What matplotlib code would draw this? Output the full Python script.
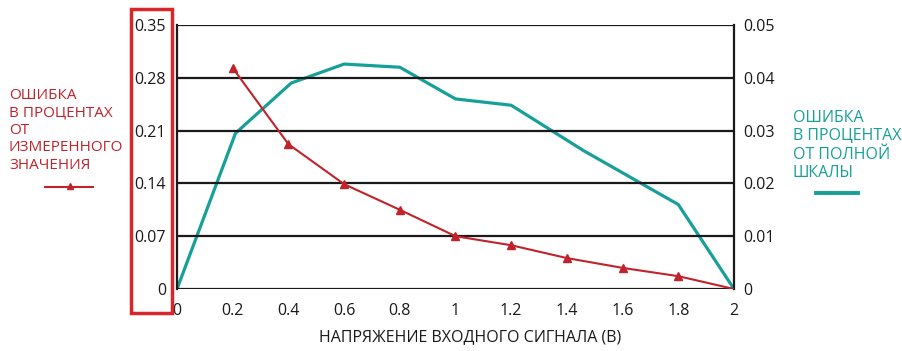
import matplotlib
matplotlib.use("Agg")
import matplotlib.pyplot as plt
from matplotlib.patches import Rectangle
from matplotlib.lines import Line2D

plt.rcParams['font.family'] = ['Open Sans', 'DejaVu Sans']

# Data
red_x = [0.2, 0.4, 0.6, 0.8, 1.0, 1.2, 1.4, 1.6, 1.8, 2.0]
red_y = [0.293, 0.192, 0.139, 0.105, 0.070, 0.058, 0.041, 0.028, 0.017, 0.0]
teal_x = [0.0, 0.21, 0.41, 0.6, 0.8, 1.0, 1.2, 1.46, 1.8, 2.0]
teal_y = [0.0, 0.0295, 0.0390, 0.0426, 0.0420, 0.0360, 0.0348, 0.0262, 0.0160, 0.0]
left_ticks = [0, 0.07, 0.14, 0.21, 0.28, 0.35]
left_labels = ['0', '0.07', '0.14', '0.21', '0.28', '0.35']
right_ticks = [0, 0.01, 0.02, 0.03, 0.04, 0.05]
right_labels = ['0', '0.01', '0.02', '0.03', '0.04', '0.05']
x_ticks = [0, 0.2, 0.4, 0.6, 0.8, 1, 1.2, 1.4, 1.6, 1.8, 2]
x_labels = ['0', '0.2', '0.4', '0.6', '0.8', '1', '1.2', '1.4', '1.6', '1.8', '2']

RED = '#c0232b'
TEAL = '#17a098'
W, H = 903, 351

fig = plt.figure(figsize=(W/100, H/100), dpi=100)
ax = fig.add_axes([177/W, 1-289/H, (734-177)/W, (289-25)/H])
ax2 = ax.twinx()

ax.set_xlim(0, 2)
ax.set_ylim(0, 0.35)
ax2.set_ylim(0, 0.05)

for t in left_ticks:
    ax.axhline(t, color='#1a1a1a', lw=1.6, zorder=1)

ax2.plot(teal_x, teal_y, color=TEAL, lw=2.3, zorder=3)
ax.plot(red_x, red_y, color=RED, lw=1.5, marker='^', ms=5.5,
        markevery=list(range(len(red_x)-1)), zorder=4)
ax.set_zorder(ax2.get_zorder()+1)
ax.patch.set_visible(False)

ax.set_xticks(x_ticks)
ax.set_xticklabels(x_labels)
ax.set_yticks(left_ticks)
ax.set_yticklabels(left_labels)
ax2.set_yticks(right_ticks)
ax2.set_yticklabels(right_labels)

for a in (ax, ax2):
    a.tick_params(length=0, labelsize=11.5, colors='#1a1a1a')
    for s in a.spines.values():
        s.set_visible(False)
ax.tick_params(axis='y', pad=8)
ax.tick_params(axis='x', pad=10)
ax2.tick_params(axis='y', pad=7)
ax.spines['left'].set_visible(True)
ax.spines['left'].set_color('#1a1a1a')
ax.spines['left'].set_linewidth(1.6)
ax.spines['right'].set_visible(True)
ax.spines['right'].set_color('#1a1a1a')
ax.spines['right'].set_linewidth(1.6)

ax.set_xlabel('НАПРЯЖЕНИЕ ВХОДНОГО СИГНАЛА (В)', fontsize=11.5, color='#1a1a1a')
ax.xaxis.set_label_coords((470-177)/(734-177), -(337-289)/(289-25))
ax.xaxis.label.set_va('center')

# Red box around left tick labels
fig.patches.append(Rectangle((131/W, 1-313/H), (172-131)/W, (313-9)/H,
                             transform=fig.transFigure, fill=False,
                             edgecolor='#d9262a', lw=2.5))

fig.text(9/W, 1-88/H, 'ОШИБКА\nВ ПРОЦЕНТАХ\nОТ\nИЗМЕРЕННОГО\nЗНАЧЕНИЯ',
         color=RED, fontsize=11, va='top', ha='left', linespacing=1.22)
fig.lines.append(Line2D([45/W, 93/W], [1-187/H, 1-187/H], transform=fig.transFigure,
                        color=RED, lw=1.5))
fig.lines.append(Line2D([70/W], [1-186/H], transform=fig.transFigure,
                        color=RED, marker='^', ms=5, lw=0))

fig.text(793/W, 1-110/H, 'ОШИБКА\nВ ПРОЦЕНТАХ\nОТ ПОЛНОЙ\nШКАЛЫ',
         color=TEAL, fontsize=11.5, va='top', ha='left', linespacing=1.2)
fig.lines.append(Line2D([816/W, 858/W], [1-193/H, 1-193/H], transform=fig.transFigure,
                        color=TEAL, lw=2.8))

fig.savefig('out.png', dpi=100)
